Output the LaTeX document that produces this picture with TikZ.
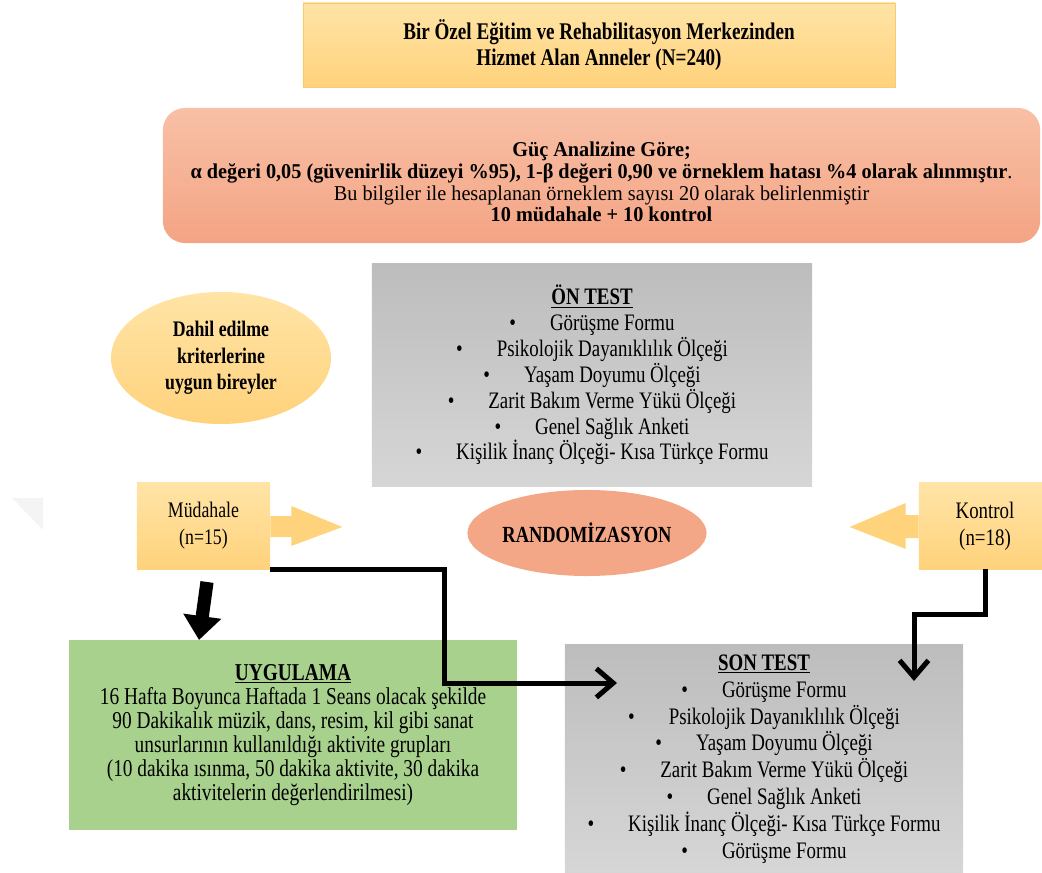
\documentclass[tikz,border=0pt]{standalone}
\usepackage{fontspec}
\setmainfont{Liberation Serif}[FakeStretch=0.80]
\newfontfamily\gucfont{Liberation Serif}[FakeStretch=0.96]
\usetikzlibrary{arrows.meta,calc,shapes.geometric}

\definecolor{sariUst}{HTML}{FFE4A6}
\definecolor{sariAlt}{HTML}{FFD27C}
\definecolor{sariCizgi}{HTML}{F6CB72}
\definecolor{somonUst}{HTML}{F8C0A6}
\definecolor{somonAlt}{HTML}{F4A484}
\definecolor{griUst}{HTML}{BDBDBD}
\definecolor{griAlt}{HTML}{D6D6D6}
\definecolor{yesil}{HTML}{A9D18E}

\newcommand{\madde}[1]{•\hspace{0.85cm}#1}

\begin{document}
\begin{tikzpicture}[x=0.025cm,y=-0.025cm]
\tikzset{every node/.style={inner sep=0pt, align=center},
  kutu/.style={rectangle, font=\fontsize{16.8}{19}\selectfont},
  sarikutu/.style={kutu, top color=sariUst, bottom color=sariAlt},
  grikutu/.style={kutu, top color=griUst, bottom color=griAlt},
  baglanti/.style={line width=0.125cm, -{Straight Barb[length=0.42cm,width=0.72cm]}},
  kalinok/.style={line width=0.33cm, -{Triangle[length=0.6cm,width=0.92cm]}}}
\useasboundingbox (0,0) rectangle (1042,873);
% faint mark on the left
\fill [gray!9] (12,498) -- (43,498) -- (43,530) -- cycle;
% top
\node [sarikutu, draw=sariCizgi, line width=0.4pt, minimum width=14.8cm, minimum height=2.1cm, font=\fontsize{17}{19}\selectfont] (anneler) at (599,45)
  {\bfseries Bir Özel Eğitim ve Rehabilitasyon Merkezinden\\ \bfseries Hizmet Alan Anneler (N=240)};
\node [kutu, rounded corners=0.55cm, top color=somonUst, bottom color=somonAlt,
  minimum width=21.925cm, minimum height=3.375cm] (guc) at (601.5,175.5) {};
\node [font=\gucfont\fontsize{15}{15.4}\selectfont] (gucYazi) at (601.5,182)
  {\textbf{Güç Analizine Göre;}\\
   \textbf{α değeri 0,05 (güvenirlik düzeyi \%95), 1-β değeri 0,90 ve örneklem hatası \%4 olarak alınmıştır}.\\
   Bu bilgiler ile hesaplanan örneklem sayısı 20 olarak belirlenmiştir\\
   \textbf{10 müdahale + 10 kontrol}};
% pre test
\node [grikutu, minimum width=11cm, minimum height=5.55cm, font=\fontsize{16.8}{18.4}\selectfont] (ontest) at (592,375)
  {\textbf{\underline{ÖN TEST}}\\ \madde{Görüşme Formu}\\ \madde{Psikolojik Dayanıklılık Ölçeği}\\
   \madde{Yaşam Doyumu Ölçeği}\\ \madde{Zarit Bakım Verme Yükü Ölçeği}\\
   \madde{Genel Sağlık Anketi}\\ \madde{Kişilik İnanç Ölçeği- Kısa Türkçe Formu}};
\node [ellipse, top color=sariUst, bottom color=sariAlt, minimum width=5.5cm, minimum height=3.3cm,
  font=\fontsize{15.8}{19}\selectfont\bfseries] (dahil) at (221,358)
  {Dahil edilme\\ kriterlerine\\ uygun bireyler};
% groups
\node [sarikutu, fill=sariAlt, minimum width=3.325cm, minimum height=2.15cm, font=\fontsize{15.8}{19}\selectfont] (mud) at (203.5,526)
  {Müdahale\\ (n=15)};
\fill [sariAlt] ($(mud.east)+(0,-10)$) -- ++(21,0) -- ++(0,-10) -- ($(mud.east)+(72,1)$)
  -- ($(mud.east)+(21,20)$) -- ++(0,-9) -- ($(mud.east)+(0,11)$) -- cycle;
\node [sarikutu, fill=sariAlt, minimum width=3.3cm, minimum height=2.15cm] (kontrol) at (985,526)
  {Kontrol\\ (n=18)};
\fill [sariAlt] ($(kontrol.west)+(0,-11)$) -- ++(-13,0) -- ++(0,-12) -- ($(kontrol.west)+(-69,1)$)
  -- ($(kontrol.west)+(-13,23)$) -- ++(0,-11) -- ($(kontrol.west)+(0,12)$) -- cycle;
\node [ellipse, fill=somonAlt!90!somonUst, minimum width=5.4cm, minimum height=2.15cm,
  font=\fontsize{16.4}{19}\selectfont\bfseries] (rand) at (587,533) {RANDOMİZASYON};
% application and post test
\node [kutu, fill=yesil, minimum width=11.2cm, minimum height=4.75cm, font=\fontsize{17.2}{17.1}\selectfont] (uyg) at (293,735)
  {\textbf{\underline{UYGULAMA}}\\ 16 Hafta Boyunca Haftada 1 Seans olacak şekilde\\
   90 Dakikalık müzik, dans, resim, kil gibi sanat\\ unsurlarının kullanıldığı aktivite grupları\\
   (10 dakika ısınma, 50 dakika aktivite, 30 dakika\\ aktivitelerin değerlendirilmesi)};
\node [grikutu, minimum width=9.95cm, minimum height=5.7cm, font=\fontsize{16.8}{19.1}\selectfont] (sontest) at (764,759)
  {\textbf{\underline{SON TEST}}\\ \madde{Görüşme Formu}\\ \madde{Psikolojik Dayanıklılık Ölçeği}\\
   \madde{Yaşam Doyumu Ölçeği}\\ \madde{Zarit Bakım Verme Yükü Ölçeği}\\
   \madde{Genel Sağlık Anketi}\\ \madde{Kişilik İnanç Ölçeği- Kısa Türkçe Formu}\\ \madde{Görüşme Formu}};
% connectors
\coordinate (mudKose) at (444,683);
\coordinate (sonGiris) at (617,683);
\coordinate (kontKose) at (914,614);
\coordinate (kontGiris) at (914,681);
\coordinate (okBas) at (207,582);
\coordinate (okUc) at (199,640);
\draw [baglanti] (mud.south east) -| (mudKose) -- (sonGiris);
\draw [baglanti] (kontrol.south) |- (kontKose) -- (kontGiris);
\draw [kalinok] (okBas) -- (okUc);
\end{tikzpicture}
\end{document}
